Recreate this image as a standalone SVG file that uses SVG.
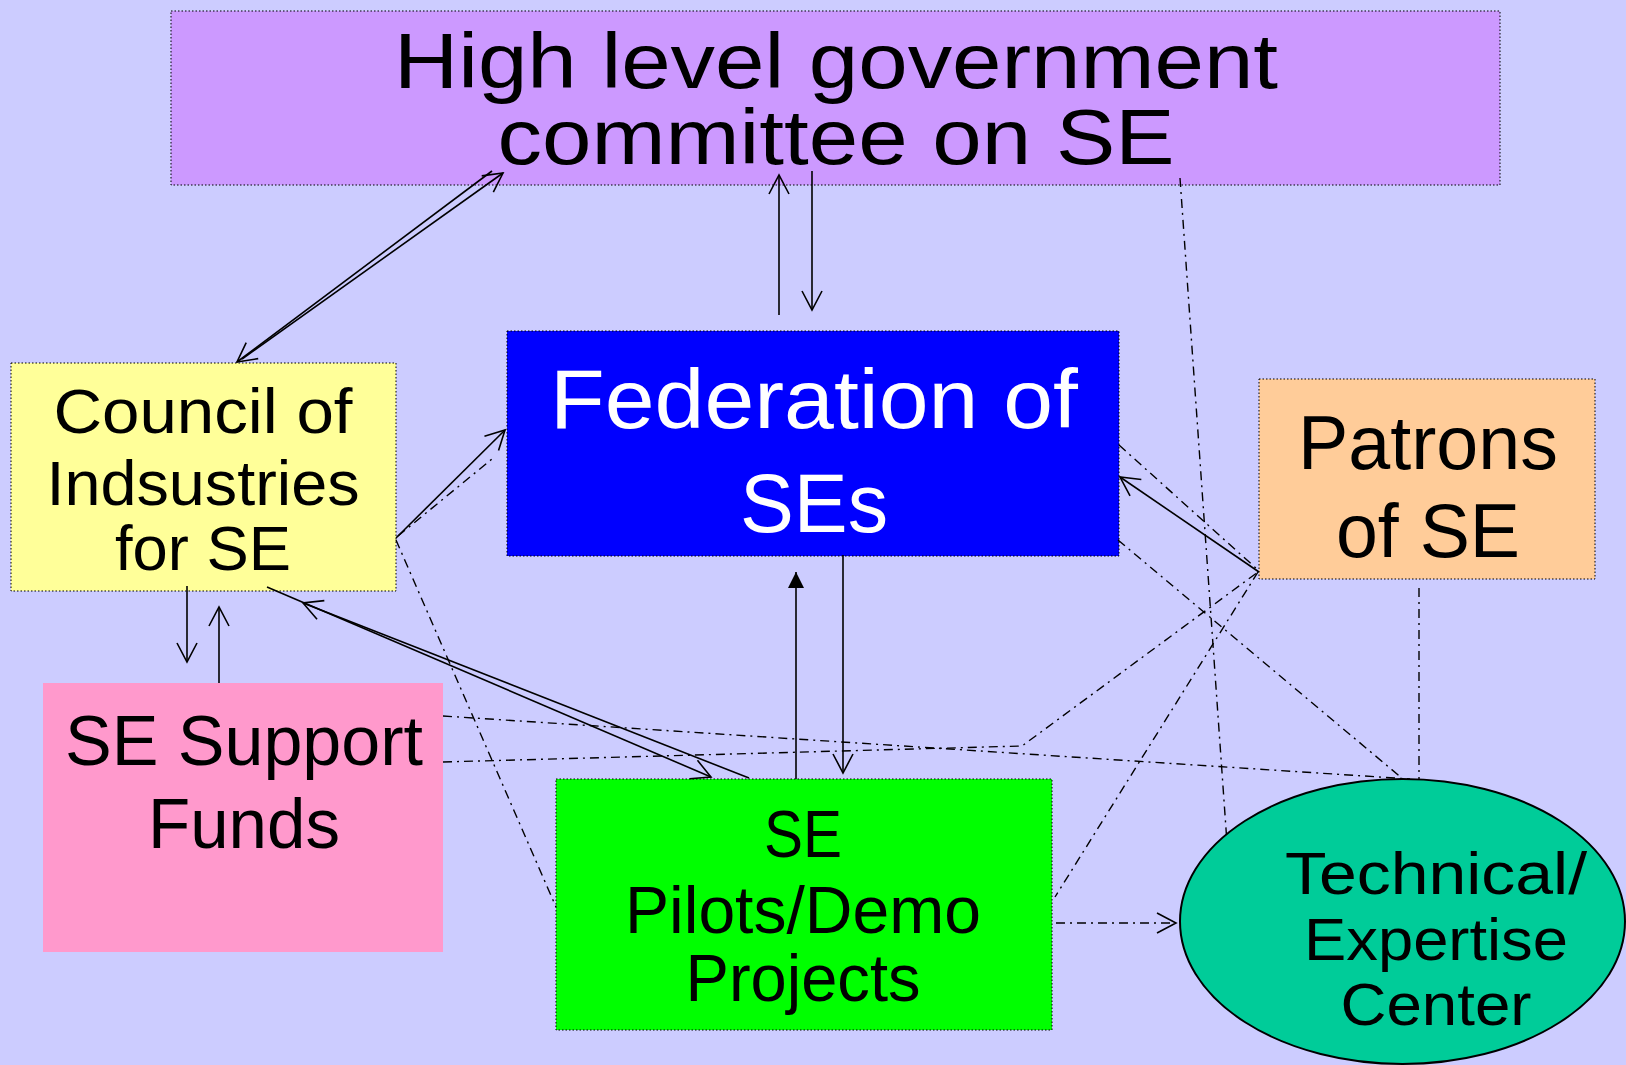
<svg xmlns="http://www.w3.org/2000/svg" width="1626" height="1065" viewBox="0 0 1626 1065">
<style>
.box{stroke:#000;stroke-width:1;stroke-dasharray:1.5 2}
.t{font-family:"Liberation Sans",Arial,sans-serif;text-anchor:middle;fill:#000}
.w{fill:#fff}
.s{fill:none;stroke:#000;stroke-width:1.6}
.d{fill:none;stroke:#000;stroke-width:1.4;stroke-dasharray:9 5 2 5}
</style>
<defs>
<marker id="open" viewBox="-22 -12 24 24" refX="0" refY="0" markerWidth="24" markerHeight="24" markerUnits="userSpaceOnUse" orient="auto">
<path d="M-19,-10 L0,0 L-19,10" fill="none" stroke="#000" stroke-width="1.6"/>
</marker>
<marker id="fill" viewBox="-18 -9 20 18" refX="0" refY="0" markerWidth="20" markerHeight="18" markerUnits="userSpaceOnUse" orient="auto">
<path d="M-16,-8 L0,0 L-16,8 Z" fill="#000"/>
</marker>
</defs>
<rect width="1626" height="1065" fill="#CCCCFF"/>

<g id="committee">
<rect class="box" x="171" y="11" width="1329" height="174" fill="#CC99FF"/>
<text class="t" font-size="77" x="836" y="88" textLength="884" lengthAdjust="spacingAndGlyphs">High level government</text>
<text class="t" font-size="77" x="836" y="164" textLength="677" lengthAdjust="spacingAndGlyphs">committee on SE</text>
</g>

<g id="council">
<rect class="box" x="11" y="363" width="385" height="228" fill="#FFFF99"/>
<text class="t" font-size="63" x="203" y="433" textLength="299" lengthAdjust="spacingAndGlyphs">Council of</text>
<text class="t" font-size="63" x="203" y="505" textLength="313" lengthAdjust="spacingAndGlyphs">Indsustries</text>
<text class="t" font-size="63" x="203" y="570" textLength="176" lengthAdjust="spacingAndGlyphs">for SE</text>
</g>

<g id="federation">
<rect class="box" x="507" y="331" width="612" height="225" fill="#0000FF"/>
<text class="t w" font-size="84" x="814" y="428" textLength="528" lengthAdjust="spacingAndGlyphs">Federation of</text>
<text class="t w" font-size="84" x="814" y="532" textLength="148" lengthAdjust="spacingAndGlyphs">SEs</text>
</g>

<g id="patrons">
<rect class="box" x="1259" y="379" width="336" height="200" fill="#FFCC99"/>
<text class="t" font-size="76" x="1428" y="469" textLength="260" lengthAdjust="spacingAndGlyphs">Patrons</text>
<text class="t" font-size="76" x="1428" y="557" textLength="184" lengthAdjust="spacingAndGlyphs">of SE</text>
</g>

<g id="funds">
<rect x="43" y="683" width="400" height="269" fill="#FF99CC"/>
<text class="t" font-size="71" x="244" y="765" textLength="358" lengthAdjust="spacingAndGlyphs">SE Support</text>
<text class="t" font-size="71" x="244" y="848" textLength="192" lengthAdjust="spacingAndGlyphs">Funds</text>
</g>

<g id="pilots">
<rect class="box" x="556" y="779" width="496" height="251" fill="#00FF00"/>
<text class="t" font-size="66" x="803" y="857" textLength="78" lengthAdjust="spacingAndGlyphs">SE</text>
<text class="t" font-size="66" x="803" y="933" textLength="356" lengthAdjust="spacingAndGlyphs">Pilots/Demo</text>
<text class="t" font-size="66" x="803" y="1001" textLength="235" lengthAdjust="spacingAndGlyphs">Projects</text>
</g>

<g id="connectors">
<line class="s" x1="492" y1="171" x2="237" y2="362" marker-end="url(#open)"/>
<line class="s" x1="242" y1="359" x2="503" y2="173" marker-end="url(#open)"/>
<line class="s" x1="779" y1="315" x2="779" y2="175" marker-end="url(#open)"/>
<line class="s" x1="812" y1="171" x2="812" y2="310" marker-end="url(#open)"/>
<line class="s" x1="396" y1="538" x2="505" y2="430" marker-end="url(#open)"/>
<line class="d" x1="398" y1="536" x2="492" y2="459"/>
<line class="d" x1="396" y1="540" x2="556" y2="907"/>
<line class="s" x1="187" y1="586" x2="187" y2="662" marker-end="url(#open)"/>
<line class="s" x1="219" y1="683" x2="219" y2="607" marker-end="url(#open)"/>
<line class="s" x1="267" y1="587" x2="711" y2="777" marker-end="url(#open)"/>
<line class="s" x1="749" y1="778" x2="303" y2="603" marker-end="url(#open)"/>
<line class="s" x1="796" y1="779" x2="796" y2="572" marker-end="url(#fill)"/>
<line class="s" x1="843" y1="555" x2="843" y2="773" marker-end="url(#open)"/>
<line class="s" x1="1259" y1="572" x2="1120" y2="477" marker-end="url(#open)"/>
<line class="d" x1="1119" y1="445" x2="1258" y2="570"/>
<polyline class="d" points="443,762 1022,746 1258,572"/>
<line class="d" x1="443" y1="716" x2="1410" y2="779"/>
<line class="d" x1="1258" y1="572" x2="1055" y2="897"/>
<line class="d" x1="1118" y1="540" x2="1403" y2="779"/>
<line class="d" x1="1419" y1="588" x2="1419" y2="779"/>
<line class="d" x1="1180" y1="178" x2="1227" y2="843"/>
<line class="d" x1="1056" y1="923" x2="1176" y2="923" marker-end="url(#open)"/>
</g>

<g id="expertise">
<ellipse cx="1402.5" cy="921.5" rx="222.5" ry="142.5" fill="#00CC99" stroke="#000" stroke-width="2"/>
<text class="t" font-size="60" x="1436" y="894" textLength="302" lengthAdjust="spacingAndGlyphs">Technical/</text>
<text class="t" font-size="60" x="1436" y="960" textLength="264" lengthAdjust="spacingAndGlyphs">Expertise</text>
<text class="t" font-size="60" x="1436" y="1025" textLength="191" lengthAdjust="spacingAndGlyphs">Center</text>
</g>
</svg>
